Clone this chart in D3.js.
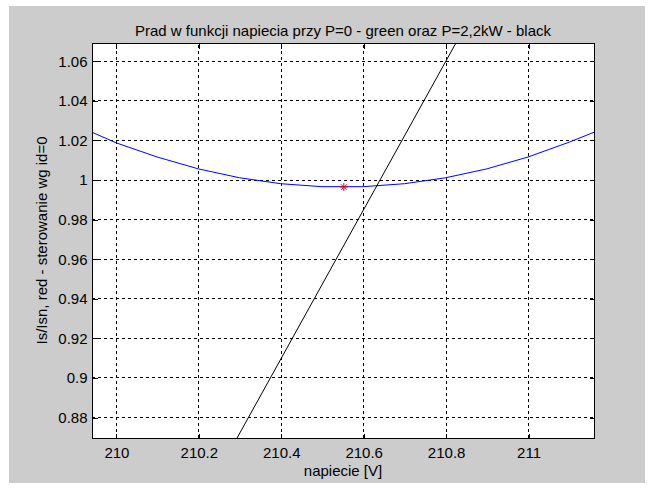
<!DOCTYPE html>
<html>
<head>
<meta charset="utf-8">
<script src="https://cdn.jsdelivr.net/npm/d3@7"></script>
<style>
  html, body { margin: 0; padding: 0; background: #ffffff; }
  svg { display: block; font-family: "Liberation Sans", Arial, sans-serif; }
</style>
</head>
<body>
<script>
// ---- data ----
const titleText = "Prad w funkcji napiecia przy P=0 - green oraz P=2,2kW - black";
const xLabel = "napiecie [V]";
const yLabel = "Is/Isn, red - sterowanie wg id=0";
const xTicks = [210, 210.2, 210.4, 210.6, 210.8, 211];
const yTicks = [0.88, 0.9, 0.92, 0.94, 0.96, 0.98, 1, 1.02, 1.04, 1.06];
const xDomain = [209.942, 211.160];
const yDomain = [0.8694, 1.069];

// blue curve (P=0)
const blueX = [209.942, 210.0, 210.1, 210.2, 210.3, 210.4, 210.5, 210.6, 210.7, 210.8, 210.9, 211.0, 211.1, 211.160];
const blueY = [1.0239, 1.0186, 1.0114, 1.0054, 1.0009, 0.9979, 0.9964, 0.9964, 0.9979, 1.0009, 1.0054, 1.0114, 1.0189, 1.0239];
// black line (P=2.2kW)
const blackX = [210.294, 210.825];
const blackY = [0.8694, 1.069];
// red star
const starX = [210.553];
const starY = [0.9962];

// ---- layout ----
const W = 653, H = 488;
const L = 92, R = 594, T = 43, B = 438;

const svg = d3.select("body").append("svg").attr("width", W).attr("height", H);
svg.append("rect").attr("x", 0).attr("y", 0).attr("width", W).attr("height", H).attr("fill", "#ffffff");
svg.append("rect").attr("x", 9).attr("y", 6).attr("width", 636).attr("height", 477).attr("fill", "#cccccc");

const x = d3.scaleLinear().domain(xDomain).range([L, R]);
const y = d3.scaleLinear().domain(yDomain).range([B, T]);

svg.append("rect").attr("x", L + 0.5).attr("y", T + 0.5).attr("width", R - L).attr("height", B - T)
  .attr("fill", "#ffffff");

// grid
const grid = svg.append("g").attr("stroke", "#000").attr("stroke-width", 1).attr("stroke-dasharray", "3,3").attr("shape-rendering", "crispEdges");
grid.selectAll("line.gx").data(xTicks).enter().append("line")
  .attr("x1", d => Math.round(x(d)) + 0.5).attr("x2", d => Math.round(x(d)) + 0.5)
  .attr("y1", B).attr("y2", T);
grid.selectAll("line.gy").data(yTicks).enter().append("line")
  .attr("y1", d => Math.round(y(d)) + 0.5).attr("y2", d => Math.round(y(d)) + 0.5)
  .attr("x1", L).attr("x2", R);

// clip
svg.append("clipPath").attr("id", "clip").append("rect")
  .attr("x", L).attr("y", T).attr("width", R - L + 1).attr("height", B - T + 1);

const plot = svg.append("g").attr("clip-path", "url(#clip)");
const line = d3.line().x(d => x(d[0])).y(d => y(d[1]));

plot.append("path").datum(blueX.map((v, i) => [v, blueY[i]]))
  .attr("d", line).attr("fill", "none").attr("stroke", "#0000ff").attr("stroke-width", 1);
plot.append("path").datum(blackX.map((v, i) => [v, blackY[i]]))
  .attr("d", line).attr("fill", "none").attr("stroke", "#000000").attr("stroke-width", 1);

// star marker
starX.forEach((sx, i) => {
  const cx = x(sx), cy = y(starY[i]), r = 4;
  const p = d3.path();
  p.moveTo(cx - r, cy); p.lineTo(cx + r, cy);
  p.moveTo(cx, cy - r); p.lineTo(cx, cy + r);
  p.moveTo(cx - r * 0.7, cy - r * 0.7); p.lineTo(cx + r * 0.7, cy + r * 0.7);
  p.moveTo(cx - r * 0.7, cy + r * 0.7); p.lineTo(cx + r * 0.7, cy - r * 0.7);
  plot.append("path").attr("d", p.toString()).attr("stroke", "#ff0000").attr("stroke-width", 1).attr("fill", "none");
});

// axes
const fmt = d => String(d);
const tickLen = 5;
const axB = svg.append("g").attr("transform", `translate(0.5,${B + 0.5})`)
  .call(d3.axisBottom(x).tickValues(xTicks).tickSize(-tickLen).tickPadding(9).tickFormat(fmt));
const axT = svg.append("g").attr("transform", `translate(0.5,${T + 0.5})`)
  .call(d3.axisTop(x).tickValues(xTicks).tickSize(-tickLen).tickFormat(""));
const axL = svg.append("g").attr("transform", `translate(${L + 0.5},0.5)`)
  .call(d3.axisLeft(y).tickValues(yTicks).tickSize(-tickLen).tickPadding(5).tickFormat(fmt));
const axR = svg.append("g").attr("transform", `translate(${R + 0.5},0.5)`)
  .call(d3.axisRight(y).tickValues(yTicks).tickSize(-tickLen).tickFormat(""));

[axB, axT, axL, axR].forEach(a => {
  a.select(".domain").remove();
  a.selectAll("line").attr("stroke", "#000").attr("shape-rendering", "crispEdges");
  a.selectAll("text").attr("fill", "#000").attr("font-size", 15).attr("font-family", "'Liberation Sans', Arial, sans-serif");
});

// frame
svg.append("rect").attr("x", L + 0.5).attr("y", T + 0.5).attr("width", R - L).attr("height", B - T)
  .attr("fill", "none").attr("stroke", "#000").attr("stroke-width", 1).attr("shape-rendering", "crispEdges");

// labels
svg.append("text").attr("x", (L + R) / 2).attr("y", 36).attr("text-anchor", "middle")
  .attr("font-size", 15).attr("fill", "#000").text(titleText);
svg.append("text").attr("x", (L + R) / 2).attr("y", 476).attr("text-anchor", "middle")
  .attr("font-size", 15).attr("fill", "#000").text(xLabel);
svg.append("text").attr("transform", `translate(47,${(T + B) / 2}) rotate(-90)`).attr("text-anchor", "middle")
  .attr("font-size", 15).attr("fill", "#000").text(yLabel);
</script>
</body>
</html>
